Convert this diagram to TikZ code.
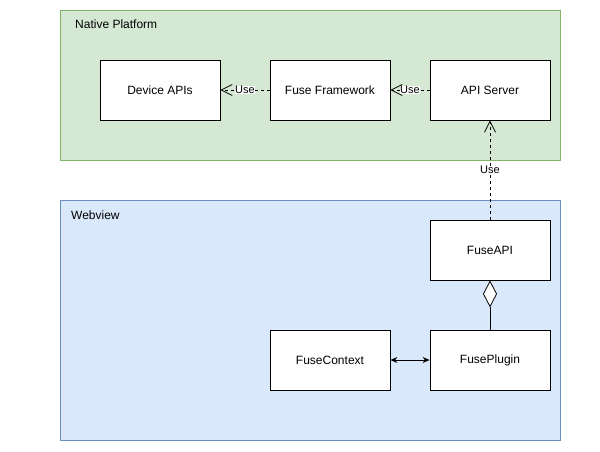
\documentclass[tikz,border=0pt]{standalone}
\usepackage{fontspec}
\setmainfont{Liberation Sans}
\usetikzlibrary{arrows.meta}
\definecolor{grfill}{HTML}{D5E8D4}
\definecolor{grline}{HTML}{82B366}
\definecolor{blfill}{HTML}{DAE8FC}
\definecolor{blline}{HTML}{6C8EBF}
\tikzset{
  container/.style={draw, line width=0.8pt},
  classbox/.style={draw=black, fill=white, line width=0.8pt, minimum width=120pt, minimum height=60pt, inner sep=0pt, font=\fontsize{12}{14}\selectfont},
  title/.style={anchor=west, inner sep=0pt, font=\fontsize{12}{14}\selectfont},
  uses/.style={draw, line width=0.8pt, dash pattern=on 3pt off 3pt, -{Straight Barb[length=11pt,width=11pt,line width=0.8pt]}},
  uselabel/.style={fill=white, inner sep=0.5pt, font=\fontsize{11}{13}\selectfont},
  assoc/.style={draw, line width=0.8pt, {Stealth[length=7pt,width=6pt]}-{Stealth[length=7pt,width=6pt]}},
  aggr/.style={draw, line width=0.8pt, {Diamond[open, length=27pt, width=14pt, line width=0.8pt, fill=white]}-},
}
\begin{document}
\begin{tikzpicture}[x=1pt,y=-1pt]
\useasboundingbox (0,0) rectangle (600,451);
% containers
\path[container, draw=grline, fill=grfill] (60,10) rectangle (560,160);
\node[title] (native) at (75,24) {Native Platform};
\path[container, draw=blline, fill=blfill] (60,200) rectangle (560,440);
\node[title] (webview) at (71,215) {Webview};
% boxes
\node[classbox] (device) at (160,90) {Device APIs};
\node[classbox] (framework) at (330,90) {Fuse Framework};
\node[classbox] (server) at (490,90) {API Server};
\node[classbox] (fuseapi) at (490,250) {FuseAPI};
\node[classbox] (context) at (330,360) {FuseContext};
\node[classbox] (plugin) at (490,360) {FusePlugin};
% connectors
\draw[uses] (framework.west) -- node[uselabel] {Use} (device.east);
\draw[uses] (server.west) -- node[uselabel] {Use} (framework.east);
\draw[uses] (fuseapi.north) -- node[uselabel] {Use} (server.south);
\draw[aggr] (fuseapi.south) -- (plugin.north);
\draw[assoc] (context.east) -- (plugin.west);
\end{tikzpicture}
\end{document}
